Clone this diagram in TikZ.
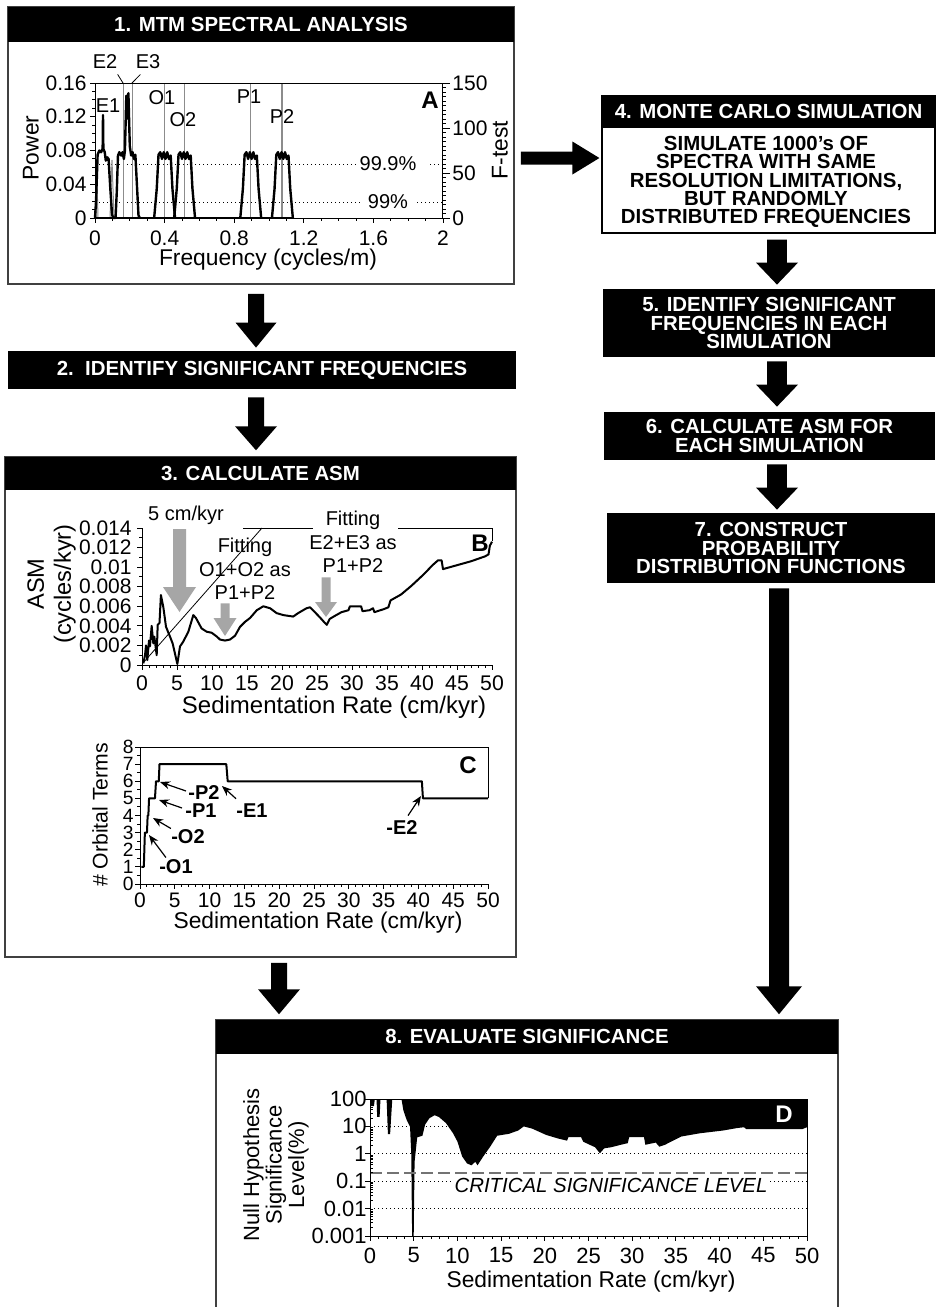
\documentclass[tikz,border=0pt]{standalone}
\usepackage{fontspec}
\setmainfont{Liberation Sans}
\usetikzlibrary{arrows.meta, calc}

\tikzset{
  frame/.style={draw=black!75, line width=0.75pt, inner sep=0pt},
  headbar/.style={fill=black, text=white, inner sep=0pt, align=center, font=\bfseries\fontsize{10.2}{9.2}\selectfont},
  bodytext/.style={inner sep=0pt, align=center, font=\bfseries\fontsize{10.2}{9.2}\selectfont},
  axis/.style={line width=0.5pt},
  ticklab/.style={inner sep=0pt, font=\fontsize{10.5}{12}\selectfont},
  axlab/.style={inner sep=0pt, font=\fontsize{11.4}{13}\selectfont},
  note/.style={inner sep=0pt, align=center, font=\fontsize{10}{11.75}\selectfont},
  panel/.style={inner sep=0pt, font=\bfseries\fontsize{12}{14}\selectfont},
  spec/.style={line width=1.2pt, line join=round},
  curve/.style={line width=1pt, line join=round},
  ftest/.style={draw=black!45, line width=0.7pt},
  sigline/.style={line width=0.5pt, dash pattern=on 0.5pt off 1.5pt},
  termlab/.style={inner sep=0pt, font=\bfseries\fontsize{10}{12}\selectfont},
  termarrow/.style={line width=0.6pt, -{Stealth[length=5pt,width=4pt]}},
}

% block arrows: from, tip, half shaft, half head, head length
\newcommand{\flowdown}[6][black]{%
  \fill[#1] let \p1=(#2), \p2=(#3) in
    (\x1-#4,\y1) -- (\x1+#4,\y1) -- (\x1+#4,\y2+#6) -- (\x1+#5,\y2+#6) -- (\x1,\y2)
    -- (\x1-#5,\y2+#6) -- (\x1-#4,\y2+#6) -- cycle;}
\newcommand{\flowright}[6][black]{%
  \fill[#1] let \p1=(#2), \p2=(#3) in
    (\x1,\y1+#4) -- (\x2-#6,\y1+#4) -- (\x2-#6,\y1+#5) -- (\x2,\y1)
    -- (\x2-#6,\y1-#5) -- (\x2-#6,\y1-#4) -- (\x1,\y1-#4) -- cycle;}

\begin{document}
\begin{tikzpicture}[x=0.5pt, y=-0.5pt]
\useasboundingbox (0,0) rectangle (938,1307);
\fill[white] (0,0) rectangle (938,1307);

\coordinate (colL) at (256,0);
\coordinate (colB) at (279,0);
\coordinate (colR) at (777,0);
\coordinate (colS) at (779,0);
\coordinate (rowA) at (0,158);

%% 1. MTM spectral analysis
\node[frame, minimum width=253pt, minimum height=138.5pt] (box1) at (261,145.5) {};
\node[headbar, minimum width=253pt, minimum height=17.5pt, anchor=north] (head1) at (box1.north) {1. MTM SPECTRAL ANALYSIS};

\draw[sigline] (95,164) -- (357,164) (430,164) -- (442,164);
\draw[sigline] (95,202) -- (362,202) (417,202) -- (442,202);
\node[note] (s999) at (388,164) {99.9\%};
\node[note] (s99) at (388,202) {99\%};

\foreach \f in {0.163,0.217,0.40,0.513,0.894,1.075}
  \draw[ftest] ({95+\f*174},83) -- ({95+\f*174},218);
\draw[ftest, line width=0.5pt] (96,218) -- (97,180) -- (98,218);
\draw[ftest, line width=0.5pt] (110,218) -- (112,160) -- (114,218);

\begin{scope}[shift={(95,218)}, x=87pt, y=421.875pt]
\draw[spec] plot coordinates {(0,0) (0.006,0.02) (0.015,0.075) (0.025,0.08) (0.035,0.078)
  (0.044,0.082) (0.046,0.122) (0.048,0.082) (0.056,0.078) (0.062,0.068) (0.07,0.072)
  (0.078,0.07) (0.088,0.035) (0.098,0.004) (0.105,0) (0.118,0) (0.125,0.03) (0.132,0.074)
  (0.14,0.078) (0.15,0.074) (0.158,0.078) (0.166,0.07) (0.172,0.08) (0.18,0.145)
  (0.186,0.118) (0.192,0.148) (0.2,0.085) (0.208,0.074) (0.216,0.078) (0.224,0.07)
  (0.232,0.075) (0.242,0.035) (0.25,0.003) (0.258,0)};
\foreach \c in {0.40,0.515,0.895,1.077}
  \draw[spec] ({\c-0.06},0) -- ({\c-0.045},0.035) -- ({\c-0.035},0.075) -- ({\c-0.025},0.078)
    -- ({\c-0.015},0.07) -- ({\c-0.005},0.078) -- ({\c+0.005},0.07) -- ({\c+0.015},0.078)
    -- ({\c+0.025},0.07) -- ({\c+0.035},0.074) -- ({\c+0.045},0.035) -- ({\c+0.06},0);
\draw[spec] (0,0) -- (1.14,0);
\end{scope}

\draw[axis] (95,83) rectangle (442,218);
\foreach \k in {0,...,16} \draw[axis] (95,{218-\k*8.4375}) -- ++(-3,0);
\foreach \k in {0,4,...,16} \draw[axis] (95,{218-\k*8.4375}) -- ++(-5,0);
\foreach \k in {0,...,30} \draw[axis] (442,{218-\k*4.5}) -- ++(4,0);
\foreach \k in {0,10,20,30} \draw[axis] (442,{218-\k*4.5}) -- ++(8,0);
\foreach \k in {0,...,20} \draw[axis] ({95+\k*17.4},218) -- ++(0,3);
\foreach \k in {0,4,...,20} \draw[axis] ({95+\k*17.4},218) -- ++(0,5);

\foreach \v/\t in {0/0,1/0.04,2/0.08,3/0.12,4/0.16}
  \node[ticklab, anchor=east] (pw\v) at (87,{218-\v*33.75}) {\t};
\foreach \v/\t in {0/0,1/50,2/100,3/150}
  \node[ticklab, anchor=west] (ft\v) at (452,{218-\v*45}) {\t};
\foreach \v/\t in {0/0,1/0.4,2/0.8,3/1.2,4/1.6,5/2}
  \node[ticklab] (fq\v) at ({95+\v*69.6},238) {\t};
\node[axlab, rotate=90] (powlab) at (31,148) {Power};
\node[axlab, rotate=90] (ftlab) at (500,150) {F-test};
\node[axlab, anchor=base] (freqlab) at (268,265) {Frequency (cycles/m)};

\node[note] (lE1) at (108,106) {E1};
\node[note] (lE2) at (105,62) {E2};
\node[note] (lE3) at (148,62) {E3};
\node[note] (lO1) at (162,98) {O1};
\node[note] (lO2) at (183,120) {O2};
\node[note] (lP1) at (249,97) {P1};
\node[note] (lP2) at (282,117) {P2};
\coordinate (tE2) at (123,83);
\coordinate (tE3) at (132,83);
\draw[line width=0.4pt] ([shift={(0,5)}]lE2.south east) -- (tE2);
\draw[line width=0.4pt] ([shift={(5,5)}]lE3.south west) -- (tE3);
\node[panel] (pA) at (430,100) {A};

%% 2. identify
\node[headbar, minimum width=254pt, minimum height=19pt] (box2) at (262,370) {2.\ \ IDENTIFY SIGNIFICANT FREQUENCIES};

%% 3. calculate ASM
\node[frame, minimum width=255.5pt, minimum height=250pt] (box3) at (260.5,707) {};
\node[headbar, minimum width=255.5pt, minimum height=16.5pt, anchor=north] (head3) at (box3.north) {3. CALCULATE ASM};

% panel B
\draw[line width=0.4pt] (143,663) -- (262,528);
\begin{scope}[shift={(142,665)}, x=3.5pt, y=4.893pt]
\draw[curve] plot coordinates {(0.19,0.17) (0.43,1.0) (0.57,2.0) (0.76,0.5) (1.0,2.5)
  (1.14,1.9) (1.38,4.0) (1.62,2.2) (1.76,2.9) (2.1,1.0) (2.24,4.1) (2.5,4.3) (2.7,7.15)
  (3.05,5.9) (3.43,3.9) (4.0,2.9) (4.38,2.2) (4.7,1.2) (5.05,0.1) (5.43,1.9) (5.9,2.4)
  (6.62,3.4) (7.33,5.1) (7.71,4.8) (8.5,3.75) (9.24,3.4) (9.95,3.3) (10.7,2.9) (11.14,2.6)
  (11.86,2.5) (12.57,2.6) (13.3,3.0) (14.0,3.9) (14.7,4.4) (15.43,4.8) (16.4,5.6)
  (17.33,6.0) (18.3,5.8) (19.24,5.3) (20.2,5.1) (21.6,4.95) (22.3,5.3) (23.5,5.8)
  (24.0,5.9) (24.7,5.4) (25.5,4.8) (26.0,4.4) (26.4,4.1) (26.8,4.7) (27.5,5.0) (28.5,5.4)
  (29.5,5.6) (29.7,6.0) (31.3,6.0) (31.5,5.5) (32.5,5.6) (33,5.8) (33.2,5.4) (34.5,5.7)
  (35.2,5.9) (35.5,6.6) (37,7.2) (38.5,8.1) (40,9.1) (40.7,9.6) (41.5,10.2) (42.3,10.7)
  (42.8,10.7) (43,9.8) (45,10.2) (47,10.6) (49,11.1) (49.5,11.3) (49.7,12.2) (50,12.6)};
\end{scope}
\draw[axis] (142,528) -- (142,665) -- (492,665);
\draw[axis] (243,528) -- (313,528) (398,528) -- (492,528) -- (492,541);
\foreach \k in {0,...,14} \draw[axis] (142,{665-\k*9.786}) -- ++(-3,0);
\foreach \k in {0,2,...,14} \draw[axis] (142,{665-\k*9.786}) -- ++(-5,0);
\foreach \k in {0,...,50} \draw[axis] ({142+\k*7},665) -- ++(0,3);
\foreach \k in {0,5,...,50} \draw[axis] ({142+\k*7},665) -- ++(0,5);
\foreach \k/\t in {0/0,2/0.002,4/0.004,6/0.006,8/0.008,10/0.01,12/0.012,14/0.014}
  \node[ticklab, anchor=east] (am\k) at (132,{665-\k*9.786}) {\t};
\foreach \v in {0,5,...,50}
  \node[ticklab, font=\fontsize{10.6}{12}\selectfont] (sb\v) at ({142+\v*7},683) {\v};
\node[axlab, rotate=90, align=center, font=\fontsize{11.8}{13.5}\selectfont] (asmlab) at (51.5,584) {ASM\\(cycles/kyr)};
\node[axlab, anchor=base, font=\fontsize{12}{14}\selectfont] (sedB) at (334,713) {Sedimentation Rate (cm/kyr)};
\node[panel] (pB) at (480,543) {B};

\node[note, anchor=base] (l5cm) at (186,520.5) {5 cm/kyr};
\node[note, anchor=north] (fitOO) at (245,538) {Fitting\\O1+O2 as\\P1+P2};
\node[note, anchor=north] (fitEE) at (353,511) {Fitting\\E2+E3 as\\P1+P2};
\coordinate (g1tip) at (179.5,612);
\coordinate (g2tip) at (225,636);
\coordinate (g3tip) at (326,617);
\flowdown[black!35]{$(l5cm.south -| g1tip)+(0,4)$}{g1tip}{3.25pt}{8.25pt}{12.5pt}
\flowdown[black!35]{$(fitOO.south -| g2tip)+(0,3)$}{g2tip}{2.25pt}{5.75pt}{9pt}
\flowdown[black!35]{$(fitEE.south -| g3tip)+(0,4)$}{g3tip}{2.25pt}{5.5pt}{7.5pt}

% panel C
\begin{scope}[shift={(140,884)}, x=3.48pt, y=8.5625pt]
\draw[curve] (0.2,1) -- (0.55,1) -- (0.7,3) -- (1.0,3) -- (1.1,4) -- (1.2,4) -- (1.3,5)
  -- (2.15,5) -- (2.3,6) -- (2.7,6) -- (2.8,7) -- (12.4,7) -- (12.6,6) -- (40.5,6)
  -- (40.65,5) -- (50,5);
\end{scope}
\draw[axis] (488,798) -- (488,747) -- (140,747) -- (140,884) -- (488,884);
\foreach \k in {0,...,16} \draw[axis] (140,{884-\k*8.5625}) -- ++(-3,0);
\foreach \k in {0,2,...,16} \draw[axis] (140,{884-\k*8.5625}) -- ++(-5,0);
\foreach \k in {0,...,50} \draw[axis] ({140+\k*6.96},884) -- ++(0,3);
\foreach \k in {0,5,...,50} \draw[axis] ({140+\k*6.96},884) -- ++(0,5);
\foreach \v in {0,...,8}
  \node[ticklab, font=\fontsize{9.6}{11}\selectfont, anchor=east] (ot\v) at (134,{884-\v*17.125}) {\v};
\foreach \v in {0,5,...,50}
  \node[ticklab] (sc\v) at ({140+\v*6.96},900) {\v};
\node[axlab, rotate=90, font=\fontsize{10.6}{12}\selectfont] (orblab) at (100,815) {\# Orbital Terms};
\node[axlab, anchor=base] (sedC) at (318,928) {Sedimentation Rate (cm/kyr)};
\node[panel] (pC) at (468,765) {C};

\node[termlab] (lP2c) at (204,793) {-P2};
\node[termlab] (lP1c) at (201,811) {-P1};
\node[termlab] (lE1c) at (252,811) {-E1};
\node[termlab] (lO2c) at (188,837) {-O2};
\node[termlab] (lO1c) at (176,867) {-O1};
\node[termlab] (lE2c) at (402,828) {-E2};
\coordinate (tP2) at (160,782);
\coordinate (tP1) at (159,800);
\coordinate (tE1) at (222,786);
\coordinate (tO2) at (153,818);
\coordinate (tO1) at (149,835);
\coordinate (tE2c) at (421,796);
\draw[termarrow] ([shift={(-2,-2)}]lP2c.west) -- (tP2);
\draw[termarrow] ([shift={(-3,-3)}]lP1c.west) -- (tP1);
\draw[termarrow] ([shift={(0,-5)}]lE1c.north west) -- (tE1);
\draw[termarrow] ([shift={(0,-1)}]lO2c.north west) -- (tO2);
\draw[termarrow] ([shift={(7,-2)}]lO1c.north west) -- (tO1);
\draw[termarrow] ([shift={(6,-5)}]lE2c.north) -- (tE2c);

%% 4. Monte Carlo
\node[draw=black, line width=0.6pt, minimum width=166.5pt, minimum height=68.5pt, inner sep=0pt] (box4) at (768.5,164.5) {};
\node[headbar, minimum width=166.5pt, minimum height=16pt, anchor=north] (head4) at (box4.north) {4. MONTE CARLO SIMULATION};
\node[bodytext] (body4) at (766,182) {SIMULATE 1000{\char"27}s OF\\SPECTRA WITH SAME\\RESOLUTION LIMITATIONS,\\BUT RANDOMLY\\DISTRIBUTED FREQUENCIES};

%% 5.-7.
\node[headbar, minimum width=166pt, minimum height=34pt] (box5) at (769,323) {5. IDENTIFY SIGNIFICANT\\FREQUENCIES IN EACH\\SIMULATION};
\node[headbar, minimum width=165.5pt, minimum height=24pt] (box6) at (769.5,436) {6. CALCULATE ASM FOR\\EACH SIMULATION};
\node[headbar, minimum width=164pt, minimum height=35pt] (box7) at (771,548) {7. CONSTRUCT\\PROBABILITY\\DISTRIBUTION FUNCTIONS};

%% 8. evaluate significance
\node[frame, minimum width=311pt, minimum height=150pt] (box8) at (527,1170) {};
\node[headbar, minimum width=311pt, minimum height=17pt, anchor=north] (head8) at (box8.north) {8. EVALUATE SIGNIFICANCE};

\foreach \k in {1,...,4} \draw[sigline] (370,{1236-\k*27.4}) -- (807,{1236-\k*27.4});
\begin{scope}[shift={(370,1236)}, x=4.37pt, y=13.7pt]
\fill (0,5) -- plot coordinates {(0,5) (0.15,4.74) (0.45,4.74) (0.55,5) (0.75,5) (0.82,4.35)
  (1.1,4.35) (1.2,5) (1.9,5) (2.05,3.72) (2.3,3.72) (2.55,5) (3.6,5) (3.81,4.6) (4.2,4.23)
  (4.58,3.99) (4.72,3.0) (4.82,0) (5.0,0) (5.1,2.7) (5.4,3.6) (6.0,3.66) (6.3,4.06)
  (6.8,4.3) (7.4,4.41) (7.9,4.34) (8.7,4.12) (9.5,3.75) (10.0,3.45) (10.55,2.9) (11.1,2.65)
  (11.6,2.58) (12.05,2.71) (12.3,2.58) (12.95,2.9) (13.75,3.26) (14.55,3.66) (15.9,3.73)
  (16.95,3.85) (17.6,4.0) (18.55,3.92) (20.15,3.69) (21.5,3.56) (22.55,3.48) (22.7,3.61)
  (24.15,3.61) (24.4,3.44) (25.75,3.24) (26.3,3.02) (26.8,3.2) (27.6,3.24) (28.7,3.33)
  (29.5,3.39) (29.65,3.61) (31.35,3.61) (31.5,3.33) (32.7,3.41) (33.1,3.26) (33.75,3.33)
  (35.6,3.63) (37.75,3.75) (40.4,3.85) (42.0,3.94) (42.8,3.97) (43.05,3.9) (49.45,3.9)
  (50,3.97)} -- (50,5) -- cycle;
\end{scope}
\draw[black!55, line width=0.7pt, dash pattern=on 6pt off 2.5pt] (370,1173) -- (807,1173);
\draw[axis] (370,1099) rectangle (807,1236);
\foreach \k in {0,...,5} \draw[axis] (370,{1236-\k*27.4}) -- ++(-5,0);
\foreach \d in {0,...,4} \foreach \m in {2,...,9}
  \draw[axis] (370,{1236-(\d+log10(\m))*27.4}) -- ++(3,0);
\foreach \k in {0,...,50} \draw[axis] ({370+\k*8.74},1236) -- ++(0,3);
\foreach \k in {0,5,...,50} \draw[axis] ({370+\k*8.74},1236) -- ++(0,5);
\foreach \k/\t in {0/0.001,1/0.01,2/0.1,3/1,4/10,5/100}
  \node[ticklab, font=\fontsize{11}{13}\selectfont, anchor=east] (nh\k) at (367,{1236-\k*27.4}) {\t};
\foreach \v in {0,5,...,50}
  \node[ticklab, font=\fontsize{11}{13}\selectfont] (sd\v) at ({370+\v*8.74},1255.5) {\v};
\node[axlab, rotate=90, align=center, font=\fontsize{11}{11.25}\selectfont] (nulllab) at (276,1165) {Null Hypothesis\\Significance\\Level(\%)};
\node[axlab, anchor=base] (sedD) at (591,1287) {Sedimentation Rate (cm/kyr)};
\node[note, fill=white, inner sep=0.5pt, font=\itshape\fontsize{10.2}{12}\selectfont] (crit) at (611,1185) {CRITICAL SIGNIFICANCE LEVEL};
\node[panel, text=white] (pD) at (784,1114) {D};

%% flow arrows
\flowdown{$(box1.south -| colL)+(0,9)$}{$(box2.north -| colL)+(0,-3)$}{4pt}{10.25pt}{12.5pt}
\flowdown{$(box2.south -| colL)+(0,8)$}{$(box3.north -| colL)+(0,-6)$}{4pt}{10.5pt}{12pt}
\flowright{$(box1.east |- rowA)+(6,0)$}{$(box4.west |- rowA)+(-2,0)$}{3.25pt}{8.25pt}{13.5pt}
\flowdown{$(box4.south -| colR)+(0,6)$}{$(box5.north -| colR)+(0,-4)$}{4.9pt}{10.5pt}{11pt}
\flowdown{$(box5.south -| colR)+(0,4)$}{$(box6.north -| colR)+(0,-5)$}{4.9pt}{10.5pt}{11pt}
\flowdown{$(box6.south -| colR)+(0,4)$}{$(box7.north -| colR)+(0,-3)$}{4.9pt}{10.5pt}{11pt}
\flowdown{$(box7.south -| colS)+(0,5)$}{$(box8.north -| colS)+(0,-5)$}{5pt}{11.5pt}{14pt}
\flowdown{$(box3.south -| colB)+(0,5)$}{$(box8.north -| colB)+(0,-5)$}{4pt}{10.5pt}{12.5pt}
\end{tikzpicture}
\end{document}
